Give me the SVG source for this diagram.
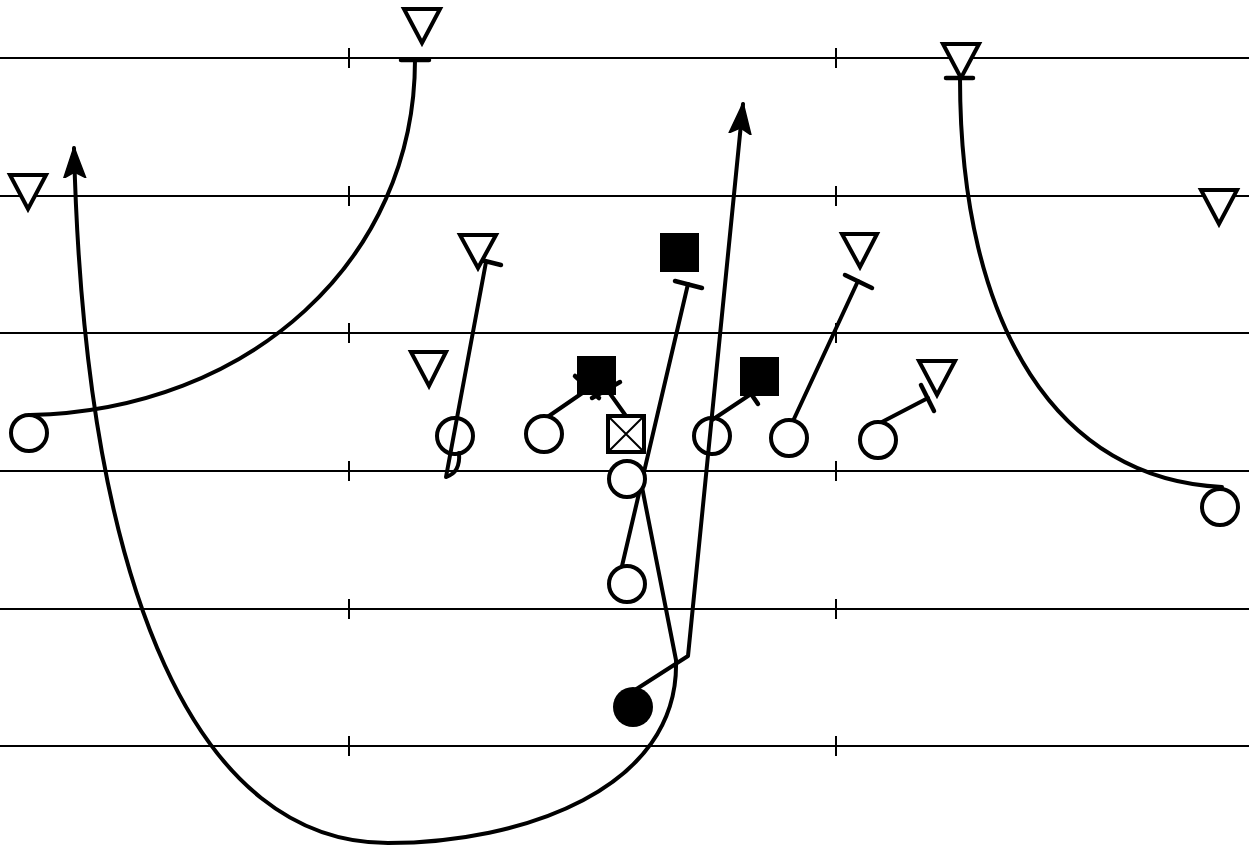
<svg xmlns="http://www.w3.org/2000/svg" width="1249" height="847" viewBox="0 0 1249 847">
<defs>
<style>
.field{stroke:#000;stroke-width:2;fill:none}
.route{stroke:#000;stroke-width:4;fill:none;stroke-linecap:round;stroke-linejoin:round}
.tbar{stroke:#000;stroke-width:4.5;fill:none;stroke-linecap:round}
.def{stroke:#000;stroke-width:4;fill:#fff;stroke-linejoin:miter}
.off{stroke:#000;stroke-width:4;fill:#fff}
.blk{fill:#000}
</style>
<marker id="arr" viewBox="0 0 32 24" refX="30" refY="12" markerWidth="32" markerHeight="24" markerUnits="userSpaceOnUse" orient="auto">
<path d="M0,1 L31,12 L0,23 L6,12 z" fill="#000" stroke="#000" stroke-width="1.5" stroke-linejoin="round"/>
</marker>
</defs>
<rect width="1249" height="847" fill="#fff"/>
<g id="field">
<line class="field" x1="0" y1="58" x2="1249" y2="58"/>
<line class="field" x1="0" y1="196" x2="1249" y2="196"/>
<line class="field" x1="0" y1="333" x2="1249" y2="333"/>
<line class="field" x1="0" y1="471" x2="1249" y2="471"/>
<line class="field" x1="0" y1="609" x2="1249" y2="609"/>
<line class="field" x1="0" y1="746" x2="1249" y2="746"/>
<path class="field" d="M349,48v20M836,48v20M349,186v20M836,186v20M349,323v20M836,323v20M349,461v20M836,461v20M349,599v20M836,599v20M349,736v20M836,736v20"/>
</g>
<g id="connectors">
<path class="route" d="M30,415 C250,410 415,260 415,60"/>
<line class="tbar" x1="401" y1="60" x2="429" y2="60"/>
<path class="route" d="M1222,487 C1060,480 960,330 960,78"/>
<line class="tbar" x1="946" y1="78" x2="973" y2="78"/>
<path class="route" d="M486,262 L446,477 C456,474 460,465 459,453"/>
<line class="tbar" x1="473" y1="258" x2="501" y2="265"/>
<line class="route" x1="546" y1="418" x2="594" y2="385"/>
<line class="tbar" x1="575" y1="376" x2="599" y2="398"/>
<line class="route" x1="626" y1="416" x2="606" y2="388"/>
<line class="tbar" x1="592" y1="398" x2="620" y2="382"/>
<line class="route" x1="622" y1="566" x2="688" y2="284"/>
<line class="tbar" x1="675" y1="281" x2="702" y2="288"/>
<line class="route" x1="712" y1="420" x2="751" y2="394"/>
<line class="tbar" x1="743" y1="382" x2="758" y2="404"/>
<line class="route" x1="793" y1="421" x2="858" y2="281"/>
<line class="tbar" x1="845" y1="275" x2="872" y2="288"/>
<line class="route" x1="880" y1="423" x2="928" y2="398"/>
<line class="tbar" x1="921" y1="385" x2="934" y2="411"/>
<path class="route" d="M635,690 L688,656 L743,104" marker-end="url(#arr)"/>
<path class="route" d="M641,482 L676,660 C680,790 520,843 388,843 C200,843 85,600 74,148" marker-end="url(#arr)"/>
</g>
<g id="defense">
<polygon id="d1" class="def" points="404,9 440,9 422,43"/>
<polygon id="d2" class="def" points="943,44 979,44 961,78"/>
<polygon id="d3" class="def" points="10,175 46,175 28,209"/>
<polygon id="d4" class="def" points="1201,190 1237,190 1219,224"/>
<polygon id="d5" class="def" points="460,235 496,235 478,268"/>
<polygon id="d6" class="def" points="842,234 877,234 860,267"/>
<polygon id="d7" class="def" points="411,352 446,352 429,386"/>
<polygon id="d8" class="def" points="919,361 955,361 937,395"/>
</g>
<g id="blockers">
<rect id="s1" class="blk" x="577" y="356" width="39" height="39"/>
<rect id="s2" class="blk" x="660" y="233" width="39" height="39"/>
<rect id="s3" class="blk" x="740" y="357" width="39" height="39"/>
</g>
<g id="offense">
<circle id="o1" class="off" cx="29" cy="433" r="18"/>
<circle id="o2" class="off" cx="455" cy="436" r="18" style="fill:none"/>
<circle id="o3" class="off" cx="544" cy="434" r="18"/>
<g id="center">
<rect class="off" x="608" y="416" width="36" height="36"/>
<path d="M610,418 L642,450 M642,418 L610,450" stroke="#000" stroke-width="2"/>
</g>
<circle id="o4" class="off" cx="712" cy="436" r="18" style="fill:none"/>
<circle id="o5" class="off" cx="789" cy="438" r="18"/>
<circle id="o6" class="off" cx="878" cy="440" r="18"/>
<circle id="qb" class="off" cx="627" cy="479" r="18"/>
<circle id="fb" class="off" cx="627" cy="584" r="18"/>
<circle id="o7" class="off" cx="1220" cy="507" r="18"/>
<circle id="rb" cx="633" cy="707" r="20" fill="#000"/>
</g>
</svg>
